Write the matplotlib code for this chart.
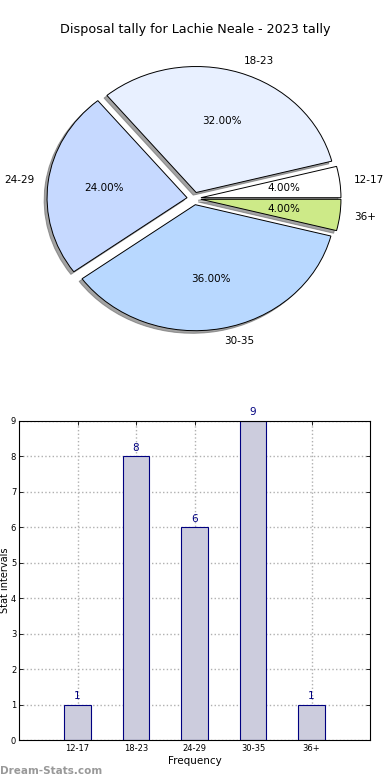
import matplotlib
matplotlib.use("Agg")
import matplotlib.pyplot as plt

title = "Disposal tally for Lachie Neale - 2023 tally"
categories = ["12-17", "18-23", "24-29", "30-35", "36+"]
counts = [1, 8, 6, 9, 1]
pie_colors = ["#ffffff", "#e8f0ff", "#c6d9ff", "#b8d8ff", "#cdea88"]

fig = plt.figure(figsize=(3.9, 7.8), dpi=100)
fig.text(0.5, 1 - 30 / 780, title, ha="center", va="center", fontsize=9.2)

# Pie
axp = fig.add_axes([19 / 390, 1 - 356 / 780, 350 / 390, 315 / 780])
wedges, texts, autotexts = axp.pie(
    counts, labels=categories, colors=pie_colors, explode=[0.05] * 5,
    autopct="%1.2f%%", shadow=dict(ox=-0.015, oy=-0.015, color="#666666", alpha=0.6),
    startangle=0,
    wedgeprops=dict(edgecolor="black", linewidth=0.7),
    textprops=dict(fontsize=7.5), frame=False)
axp.set_aspect("auto")
axp.set_xlim(-1.25, 1.25)
axp.set_ylim(-1.25, 1.25)
axp.set_xticks([])
axp.set_yticks([])

# Bar
axb = fig.add_axes([19 / 390, 40 / 780, 351 / 390, 319 / 780])
x = list(range(len(categories)))
bars = axb.bar(x, counts, width=0.45, color="#ccccdd", edgecolor="#000080",
               linewidth=0.8, zorder=2)
for xi, v in zip(x, counts):
    axb.text(xi, v + 0.1, str(v), ha="center", va="bottom", fontsize=7.5,
             color="#000080")
axb.set_xlim(-1, 5)
axb.set_ylim(0, 9)
axb.set_xticks(x)
axb.set_xticklabels(categories, fontsize=6)
axb.set_yticks(range(0, 10))
axb.set_yticklabels([str(i) for i in range(10)], fontsize=6)
axb.tick_params(direction="in", top=True, right=True, length=3, width=0.6, pad=3)
axb.tick_params(axis="y", pad=2)
axb.grid(True, linestyle=":", color="#b0b0b0", linewidth=1.0, zorder=0)
axb.set_axisbelow(True)
axb.set_xlabel("Frequency", fontsize=7.5, labelpad=2)
axb.set_ylabel("Stat intervals", fontsize=7)
axb.yaxis.set_label_coords((10 - 19) / 351, 0.5)
for s in axb.spines.values():
    s.set_linewidth(0.8)

fig.text(0.0, 1 - 771 / 780, "Dream-Stats.com", ha="left", va="center",
         fontsize=7.5, color="#999999", fontweight="bold")

fig.savefig("out.png", dpi=100)
